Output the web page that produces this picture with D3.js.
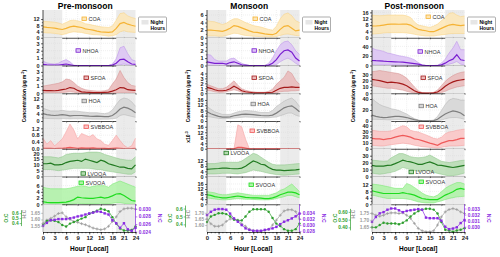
<!DOCTYPE html>
<html>
<head>
<meta charset="utf-8">
<script src="https://cdn.jsdelivr.net/npm/d3@7"></script>
<style>
body { margin: 0; background: #fff; }
text { font-family: Arial, "Liberation Sans", sans-serif; }
</style>
</head>
<body>
<svg id="chart" width="500" height="257"></svg>
<script>
// ---- data ----
const hours = [0,1,2,3,4,5,6,7,8,9,10,11,12,13,14,15,16,17,18,19,20,21,22,23,24];
const hourTicks = [0,3,6,9,12,15,18,21,24];
const nightSpans = [[0,5],[19,24]];
const seasons = ["Pre-monsoon","Monsoon","Post-monsoon"];
const species = ["COA","NHOA","SFOA","HOA","SVBBOA","LVOOA","SVOOA"];

// rows follow `species`
const preMean = [
  [7,6.6,6.4,6.2,5.7,5.3,6,7,7.4,7,6.6,5.7,5.3,4.9,4.3,3.8,3.6,3.4,3.8,6,9.1,9.8,8.7,8,7.4],
  [0.15,0.08,0.05,0.05,0.05,0.12,0.2,0.1,0,0,0,0,0,0,0,0,0,0,0.05,0.3,0.8,0.85,0.5,0.2,0.15],
  [0.4,0.38,0.36,0.35,0.4,0.5,0.6,0.8,0.7,0.4,0.2,0.15,0.12,0.1,0.1,0.1,0.12,0.15,0.3,0.5,0.8,0.75,0.5,0.45,0.4],
  [4,3.5,3.2,3,3.2,3.5,3.2,2.8,3,3,3,2.8,2.6,2.5,2.6,2.5,2.4,2.4,3,4.5,6.5,7.5,7,6,4.5],
  [0.03,0.02,0.02,0.01,0.02,0.03,0.05,0.08,0.06,0.03,0.05,0.04,0.04,0.05,0.03,0.03,0.02,0.01,0.03,0.04,0.03,0.01,0,0.01,0.03],
  [11,11,11.5,10,10,10.5,12,13,13.5,14,13,15,14,13,12,14,13,11,10,9,8,8,7,6.5,10],
  [0.8,0.6,0.5,0.5,0.5,0.6,0.7,1.0,1.5,2.3,2.1,2.0,1.9,1.9,2.1,2.3,2.0,2.2,2.7,3.3,3.4,2.8,2.0,1.2,1.0]
];
const preHi = [
  [10.6,10.4,10.2,10,9.5,8.7,9.8,11,11.3,10.8,10.2,9,8.6,8,7.5,7,6.8,6.6,7.5,11.3,15.5,16,14,13,12.3],
  [0.6,0.35,0.25,0.2,0.3,0.6,0.8,0.5,0.05,0,0,0,0,0,0,0,0,0,0.2,0.9,2.4,2.6,1.6,0.8,0.6],
  [1.0,1.1,1.2,1.3,1.4,1.6,2.0,1.9,1.5,1.0,0.7,0.5,0.4,0.35,0.3,0.3,0.35,0.5,1.3,2.0,3.2,2.2,1.5,1.1,1.0],
  [7,6.2,5.5,5.5,5.5,5.8,5.5,5.3,5.5,5.3,5,4.8,4.5,4.5,4.5,4.2,4,4.5,6,9,11.5,12.5,12,10.5,8],
  [0.62,0.27,0.48,0.17,0.37,0.58,1.0,1.45,1.1,0.58,0.9,0.8,0.7,0.83,0.58,0.48,0.27,0.2,0.48,0.8,0.48,0.2,0.06,0.17,0.62],
  [17,17,17,16.5,16,17,19,19.5,20,20,20,20.5,21,21,21,20.5,19,18,17,16,15,14.5,14,14,17],
  [5.5,5.2,5,5,5,5,5,5.2,5.5,5.8,6,5.8,5.5,5.8,6,6,6,5.5,6.5,7,7.5,7,6.5,6,5.5]
];
const preLo = [
  [3.4,3.1,3,2.8,2.4,2,2.6,3.4,3.8,3.6,3.4,2.8,2.4,2,1.9,1.7,1.4,1,1.3,2,3.8,4.5,3.8,3.6,3.4],
  [0,0,0,0,0,0,0,0,0,0,0,0,0,0,0,0,0,0,0,0,0.1,0.2,0.1,0,0],
  [0.1,0.1,0.1,0.1,0.1,0.1,0.15,0.2,0.15,0.05,0,0,0,0,0,0,0,0,0,0.05,0.1,0.1,0.1,0.1,0.1],
  [1.5,1.4,1.3,1.3,1.2,1.3,1.2,1.1,1.2,1.2,1.2,1.1,1.1,1,1,1,1,1,1.2,1.5,3,3.5,3,2.5,2],
  [0,0,0,0,0,0,0,0,0,0,0,0,0,0,0,0,0,0,0,0,0,0,0,0,0],
  [6,6,6,5.5,5,5.5,6,6.5,7,7,7,7,7,6.5,6,6,5,4.5,4,3.5,3,2.5,2,2,4],
  [0,0,0,0,0,0,0,0,0.1,0.3,0.2,0.1,0.1,0.1,0.2,0.3,0.2,0.2,0.3,0.5,0.5,0.3,0.1,0,0]
];

const monMean = [
  [2,2,1.9,1.8,1.7,2,2.5,3.2,3,2.6,2.2,1.8,1.5,1.4,1.2,1,0.9,0.8,1.2,2.2,3,3.2,2.5,1.8,2],
  [0.5,0.4,0.3,0.3,0.3,0.2,0.4,0.5,0.3,0.1,0.05,0,0,0,0,0,0.05,0.3,0.8,1.5,2.0,2.1,1.8,1.0,0.6],
  [1.2,1.0,0.7,0.5,0.5,0.6,0.9,1.4,1.0,0.5,0.3,0.2,0.1,0.1,0.1,0.1,0.15,0.2,0.6,1.0,1.2,1.2,1.3,1.2,1.2],
  [7,5.5,4.5,3.5,3,3,3.2,4,4.5,5,5.2,5,4.8,4.5,4.2,4,4,4.5,6,8,10,11,11.5,9.5,7],
  [0,0,0,0,0,0,0,0,1.0,1.0,0.5,0,0,0,0,0,0,0,0,0,0,0,0,0,0],
  [5.5,5.8,6,6.2,6.5,6.5,6.2,6,6,6.5,8,10,12,11,9.5,9,7,5.5,5,5,4.5,4.8,5,5.2,5.5],
  [7.5,7,6,5.5,5,5,5.5,6,6.5,6,5.5,5.2,5,5,4.8,4.5,4.5,5,6,7.5,8.5,9.5,9.5,9,7.5]
];
const monHi = [
  [4.5,4.3,4.2,3.8,3.5,3.8,4.5,5,5,4.5,4,3.6,3.2,3,2.8,2.5,2.2,2,3,5,6.2,6.5,5.8,4.5,4],
  [1.5,1.4,0.8,0.6,0.6,0.6,0.9,1.0,0.6,0.3,0.1,0,0,0,0,0,0.3,1.0,2.0,2.8,3.2,3.3,2.8,2.0,1.5],
  [1.8,1.5,1.2,0.9,0.9,1.2,1.8,2.5,1.6,0.9,0.6,0.4,0.3,0.2,0.2,0.2,0.4,0.8,1.8,2.5,3.2,4.5,4.0,2.6,1.8],
  [11,9,7,6,5,5,5,6,7,7.5,8,7.8,7.5,7,6.5,6.5,6.5,8,11,13,15,16.5,17.5,15,11],
  [0,0,0,0,0,0,0,0,17.4,16,7,0,0,0,0,0,0,0,0,0,0,0,0,0,0],
  [10,10,10,10.5,11,11,11,11,11,12,14,16,18,17,15,13,11,9.5,9,9,9,9.2,9.5,9.8,10],
  [10,9.5,9,8,7.5,7.5,8,8.5,9,8.5,8,7.5,7,7,7,7,7,8,9,11,12,14,16,13,10]
];
const monLo = [
  [0.5,0.5,0.5,0.4,0.4,0.6,0.9,1.2,1.1,0.8,0.6,0.5,0.4,0.35,0.3,0.25,0.2,0.2,0.3,0.6,0.9,1.0,0.8,0.6,0.5],
  [0,0,0,0,0,0,0,0,0,0,0,0,0,0,0,0,0,0,0.1,0.5,0.8,1.0,0.7,0.3,0],
  [0.6,0.5,0.3,0.2,0.2,0.3,0.5,0.7,0.5,0.2,0.1,0.05,0,0,0,0,0,0,0.1,0.3,0.4,0.4,0.5,0.5,0.6],
  [3.5,3,2.5,2,1.8,1.8,2,2.2,2.5,2.8,3,2.9,2.8,2.6,2.5,2.5,2.5,2.8,3,4,5,6,6,4.5,3.5],
  [0,0,0,0,0,0,0,0,0,0,0,0,0,0,0,0,0,0,0,0,0,0,0,0,0],
  [2,2,2,2.2,2.5,2.5,2.5,2.2,2,2.5,3,4,5,4.5,4,3.2,2.5,2,1.5,1.2,1,1.2,1.5,1.8,2],
  [5,4.6,4.2,3.8,3.5,3.5,3.8,4.2,4.5,4.2,4,3.9,3.8,3.6,3.5,3.5,3.5,3.8,4.5,5.2,6,7,7,6,5]
];

const postMean = [
  [7.4,7.4,7.6,8,8.4,8.6,8.6,8.5,8.6,8.6,8,6.5,5.3,4.8,4.4,3.8,3.8,4.8,5.9,7,8,8.4,8,7.6,8],
  [10.5,10,9.8,9,8.4,8,7.7,7.3,7,6,4.9,3.8,2.8,0.7,0,0,0,0,1.4,4.9,9.8,13.3,22.5,12,10.5],
  [22,21,20,18.5,17,17.5,17,16,14.5,12,8,4,1.5,0.3,0.1,0.1,0.5,2,6,11,15,18,20,21,22],
  [10.8,8.3,7,6.3,6.5,7.6,8.3,8.3,7.6,6.3,4.4,2.5,1.3,0.6,0.4,0.4,0.6,3.2,8.3,12.7,15.9,18.4,17,14.6,9.5],
  [18,17,17,15.8,17,18,20,21.8,23,21.8,20,17,16,14,12,9.7,7.9,6,9.7,12,14,14,15.8,18,18],
  [16,15,15,15,16,16.5,18.5,21,23.5,22,21,19.5,17.5,17.5,19.5,21,19,16.5,16,15,14,13,14,15,16],
  [8.4,7.8,7.2,6.7,6.7,6.7,6.7,6.7,7.2,6.7,6.3,5.7,4.6,3.6,3.2,2.9,2.9,2.9,4.2,5.7,6.7,7.8,9.3,9.9,9.3]
];
const postHi = [
  [14.3,14,13.9,14,14.3,14.3,14.3,14.3,14.3,13.8,12.8,10,8,7.5,7,6.5,7.4,8.6,10.7,12.8,15.4,15.8,14.3,13.3,13.7],
  [36.5,33,31.6,29.5,26,24.6,22.5,20.4,19,17.5,15.4,12,6.3,1.4,0,0,0,0.7,4.9,13.3,26,36.5,50.5,33,33],
  [34,35,36,35,34,33,32,31,28,24,17,10,4,1,0.3,0.3,1.5,5,12,19,24,28,31,33,34],
  [41,35,30,26.7,24.8,22.2,21,19,15.9,12.7,8.3,4.4,1.9,0.6,0.4,0.6,1.9,8.3,19,30,38,41,40,38,38],
  [32,31,30,30,30,31,34,37,40,38,32,30,29,26.5,24,21,18,17,20,26,29,30,32,33,34],
  [23.5,23,22.5,22,22.5,27,30,33,33,31,28.5,27.5,27,27.5,28.5,31,28,25,22,21,20,21,22,23,23.5],
  [12.6,12.3,12,11.5,11,10.5,9.9,9.9,9.9,13,12,10.5,8.8,7,5.7,5,4.6,5.7,7.8,9.9,11.4,12.5,13.5,13.5,12.6]
];
const postLo = [
  [2.3,2.5,2.7,3,3.2,3.2,3.2,3.2,3.2,3,2.7,2.2,1.7,1.4,1.1,1.1,1.1,1.5,1.8,2.1,2.5,2.7,2.7,2.7,2.7],
  [1.4,1.4,1.3,1.2,1.2,1.1,1,0.8,0.6,0.4,0.2,0,0,0,0,0,0,0,0,0.5,2.8,4.9,8.4,2.8,1.4],
  [12,11,10,9,8,8,7,6,5,3,1.5,0.5,0,0,0,0,0,0,1,3,6,8,10,11,12],
  [3.2,3,2.8,2.6,2.2,2,2.5,2.5,2.2,1.6,0.8,0.3,0,0,0,0,0,0.5,1.6,3.8,5.7,6.3,6.3,5,3.2],
  [6,5.4,4.8,4.8,6,7,7.9,8.8,9.7,8.8,7.9,6,4.8,3.6,3,2.4,1.8,1.2,2.4,3.6,4.8,4.8,4.8,5.4,6],
  [5,4,3.3,4,5,6,7.5,10,13,11.5,10,8.5,7.5,8,8.5,8,6,4.5,3.3,2,1,1.5,2,3.5,5],
  [5.7,5.2,4.6,4.1,3.6,3.6,3.6,3.6,3.6,3.3,2.9,2.2,1.5,1.1,0.8,0.8,0.8,1.5,2.1,2.9,3.6,4.1,4.6,4.8,5]
];

// y tick labels of the seven panels
const preTicks  = [[0,4,8,12],[0,1,2,3],[0,1,2,3],[0,4,8,12],[0,0.4,0.8,1.2],[0,5,10,15,20],[0,2,4,6]];
const monTicks  = [[0,2,4,6],[0,1,2,3],[0,1,2,3,4],[0,4,8,12,16],[0,4,8,12,16],[0,4,8,12],[0,4,8,12,16]];
const postTicks = [[0,4,8,12,16],[0,20,40],[0,10,20,30],[0,20,40],[0,10,20,30,40],[0,10,20,30],[0,4,8,12]];
// axis top of each panel
const preMax  = [17.8,3.75,3.9,15.1,1.63,23.9,8.95];
const monMax  = [7.3,3.75,5.6,21.1,20.2,21.5,21.9];
const postMax = [17.5,58,44,50.5,48,40,17.3];

// elemental ratios
const preOC  = [0.36,0.445,0.455,0.445,0.42,0.36,0.33,0.39,0.42,0.455,0.49,0.52,0.585,0.62,0.65,0.69,0.67,0.64,0.52,0.39,0.29,0.25,0.25,0.26,0.33];
const preHC  = [1.57,1.595,1.608,1.625,1.645,1.65,1.62,1.60,1.585,1.578,1.568,1.56,1.548,1.535,1.528,1.522,1.528,1.548,1.585,1.62,1.66,1.68,1.685,1.685,1.678];
const preNC  = [0.0255,0.0263,0.027,0.0271,0.0273,0.0273,0.0273,0.0275,0.0277,0.028,0.0282,0.0285,0.0288,0.029,0.0293,0.0292,0.0288,0.0285,0.027,0.0262,0.025,0.0262,0.0246,0.0242,0.025];
const monOC  = [0.43,0.50,0.52,0.54,0.54,0.53,0.50,0.46,0.45,0.45,0.50,0.56,0.59,0.59,0.59,0.59,0.56,0.48,0.41,0.38,0.34,0.32,0.32,0.34,0.41];
const monHC  = [1.65,1.61,1.59,1.59,1.60,1.63,1.65,1.65,1.64,1.61,1.59,1.565,1.555,1.55,1.55,1.555,1.565,1.60,1.64,1.68,1.715,1.725,1.725,1.71,1.65];
const monNC  = [0.0333,0.0344,0.0351,0.0353,0.0353,0.0351,0.0338,0.0322,0.0311,0.0300,0.0289,0.0284,0.0281,0.0281,0.0281,0.0284,0.0286,0.0289,0.0294,0.0303,0.0311,0.0316,0.0322,0.0329,0.0338];
const postOC = [0.40,0.40,0.43,0.46,0.45,0.45,0.45,0.44,0.46,0.49,0.54,0.58,0.61,0.63,0.64,0.64,0.63,0.58,0.47,0.37,0.36,0.345,0.36,0.37,0.39];
const postHC = [1.745,1.733,1.726,1.733,1.745,1.75,1.75,1.745,1.75,1.733,1.71,1.674,1.638,1.621,1.614,1.614,1.621,1.662,1.721,1.757,1.774,1.781,1.774,1.757,1.745];
const postNC = [0.0308,0.0316,0.0322,0.0324,0.0328,0.0330,0.0330,0.0327,0.0324,0.0326,0.0327,0.0328,0.0329,0.0328,0.0315,0.0314,0.0314,0.0314,0.0310,0.0300,0.0296,0.0297,0.0299,0.0306,0.0311];

const ocTicks = [[0.4,0.5,0.6],[0.4,0.5,0.6],[0.40,0.50,0.60]];
const hcTicks = [[1.55,1.60,1.65],[1.60,1.65,1.70],[1.65,1.70,1.75]];
const ncTicks = [[0.024,0.026,0.028,0.030],[0.028,0.030,0.032,0.034],[0.030,0.031,0.032,0.033]];
const ocDom = [[0.22,0.78],[0.304,0.654],[0.34,0.699]];
const hcDom = [[1.505,1.715],[1.543,1.77],[1.612,1.812]];
const ncDom = [[0.0239,0.0312],[0.0277,0.0369],[0.02913,0.0337]];

// ---- style ----
const lineCol = ["#f5b335","#7a1fd0","#a51a1a","#7f7f7f","#ef5a5a","#217a21","#1fdc1f"];
const fillCol = ["#fde6b6","#dcc3f5","#e9b9b9","#d6d6d6","#fbc4c4","#b6dcb2","#aef2a6"];
const edgeCol = ["#f9d07c","#b98de8","#d48b8b","#b3b3b3","#f59a9a","#86c382","#6fe666"];
// legend placement per panel [dx from plot left, dy from panel top]
const legPos = [
  [[39,9],[33,13],[41,12.5],[39,8],[41,6],[38,25],[36,6.5]],
  [[46,9],[45,13],[45,12.5],[44,11],[43,10],[17,4.5],[42,8.5]],
  [[54,7],[46,14],[49,12.5],[47,13],[47,6],[37,23.5],[47,5.5]]
];
const X0 = [43,207,372], PW = 92.5, TOP = 10, PH = 27.75;
const OC_COL = "#2e9e2e", HC_COL = "#9a9a9a", NC_COL = "#8a2be2";

const svg = d3.select("#chart");
const cfgs = [
  {mean:preMean, hi:preHi, lo:preLo, ticks:preTicks, max:preMax, oc:preOC, hc:preHC, nc:preNC},
  {mean:monMean, hi:monHi, lo:monLo, ticks:monTicks, max:monMax, oc:monOC, hc:monHC, nc:monNC},
  {mean:postMean, hi:postHi, lo:postLo, ticks:postTicks, max:postMax, oc:postOC, hc:postHC, nc:postNC}
];

function styleAxis(g, col, fs) {
  g.select(".domain").attr("stroke", col).attr("stroke-width", 0.7);
  g.selectAll(".tick line").attr("stroke", col).attr("stroke-width", 0.6);
  g.selectAll(".tick text").attr("font-size", fs || 5.5).attr("font-weight", "bold")
    .attr("fill", col === "#000" ? "#222" : col).attr("font-family", "Arial, 'Liberation Sans', sans-serif");
}
function mids(t) {
  const m = [];
  for (let i = 0; i < t.length - 1; i++) m.push((t[i] + t[i+1]) / 2);
  return m;
}
function backdrop(g, x, y, top, bot, yt) {
  nightSpans.forEach(s => g.append("rect")
    .attr("x", x(s[0])).attr("width", x(s[1]) - x(s[0]))
    .attr("y", top).attr("height", bot - top).attr("fill", "#ebebeb"));
  g.selectAll(null).data(hourTicks.slice(1, -1)).join("line")
    .attr("x1", d => x(d)).attr("x2", d => x(d)).attr("y1", top).attr("y2", bot)
    .attr("stroke", "#d9d9d9").attr("stroke-width", 0.4).attr("stroke-dasharray", "1,1");
  if (yt) g.selectAll(null).data(yt.filter(v => v > 0)).join("line")
    .attr("x1", x(0)).attr("x2", x(24)).attr("y1", d => y(d)).attr("y2", d => y(d))
    .attr("stroke", "#d9d9d9").attr("stroke-width", 0.4).attr("stroke-dasharray", "1,1");
}

cfgs.forEach((cfg, k) => {
  const x0 = X0[k];
  const x = d3.scaleLinear().domain([0, 24]).range([x0, x0 + PW]);

  svg.append("text").attr("x", x0 + PW / 2 - 4).attr("y", 8.5)
    .attr("text-anchor", "middle").attr("font-size", 8.5).attr("font-weight", "bold")
    .text(seasons[k]);

  species.forEach((sp, i) => {
    const top = TOP + i * PH, bot = top + PH;
    const y = d3.scaleLinear().domain([0, cfg.max[i]]).range([bot, top]);
    const g = svg.append("g");
    backdrop(g, x, y, top, bot, cfg.ticks[i]);

    const band = d3.area().x((d, j) => x(hours[j])).y0((d, j) => y(cfg.lo[i][j])).y1(d => y(d));
    g.append("path").datum(cfg.hi[i]).attr("d", band).attr("fill", fillCol[i]).attr("fill-opacity", 0.85);
    const ln = d3.line().x((d, j) => x(hours[j])).y(d => y(d));
    [cfg.hi[i], cfg.lo[i]].forEach(a => g.append("path").datum(a).attr("d", ln)
      .attr("fill", "none").attr("stroke", edgeCol[i]).attr("stroke-width", 0.5));
    g.append("path").datum(cfg.mean[i]).attr("d", ln)
      .attr("fill", "none").attr("stroke", lineCol[i]).attr("stroke-width", 1.2);

    const fmt = cfg.ticks[i].some(v => v % 1 !== 0) ? d3.format(".1f") : d3.format("d");
    const ay = g.append("g").attr("transform", `translate(${x0},0)`)
      .call(d3.axisLeft(y).tickValues(cfg.ticks[i]).tickFormat(fmt).tickSize(2).tickSizeOuter(0).tickPadding(1.5));
    styleAxis(ay, "#000");
    ay.select(".domain").attr("d", `M0,${bot}V${top}`);
    const am = g.append("g").attr("transform", `translate(${x0},0)`)
      .call(d3.axisLeft(y).tickValues(mids(cfg.ticks[i])).tickFormat("").tickSize(1.2));
    am.select(".domain").remove();
    am.selectAll("line").attr("stroke", "#000").attr("stroke-width", 0.5);
    const ax = g.append("g").attr("transform", `translate(0,${bot})`)
      .call(d3.axisBottom(x).tickValues(hourTicks).tickFormat("").tickSize(1.5).tickSizeOuter(0));
    styleAxis(ax, "#000");

    const [lx, ly] = legPos[k][i];
    g.append("rect").attr("x", x0 + lx).attr("y", top + ly - 2).attr("width", 4.5).attr("height", 3.5)
      .attr("fill", fillCol[i]).attr("stroke", lineCol[i]).attr("stroke-width", 0.8);
    g.append("text").attr("x", x0 + lx + 6.5).attr("y", top + ly + 1.8)
      .attr("font-size", 5.5).attr("fill", "#333").text(sp);
  });

  // y title
  svg.append("text").attr("transform", `translate(${x0 - 17},96) rotate(-90)`)
    .attr("text-anchor", "middle").attr("font-size", 4.9).attr("font-weight", "bold")
    .html('Concentration (µg m<tspan dy="-1.8" font-size="3.5">-3</tspan><tspan dy="1.8">)</tspan>');
  if (k === 1) {
    svg.append("text").attr("transform", `translate(${x0 - 17},137) rotate(-90)`)
      .attr("text-anchor", "middle").attr("font-size", 5).attr("font-weight", "bold")
      .html('x10<tspan dy="-1.8" font-size="3.5">-3</tspan>');
  }

  // night hours legend
  const lgx = x0 + PW + 3, lgy = 17;
  svg.append("rect").attr("x", lgx).attr("y", lgy).attr("width", 28).attr("height", 15).attr("rx", 1)
    .attr("fill", "#fff").attr("stroke", "#777").attr("stroke-width", 0.6);
  svg.append("rect").attr("x", lgx + 3).attr("y", lgy + 3).attr("width", 7).attr("height", 4.5).attr("fill", "#e6e6e6");
  svg.append("text").attr("x", lgx + 12).attr("y", lgy + 7).attr("font-size", 5).attr("font-weight", "bold").text("Night");
  svg.append("text").attr("x", lgx + 12).attr("y", lgy + 13).attr("font-size", 5).attr("font-weight", "bold").text("Hours");

  // ratio panel
  const top = TOP + 7 * PH, bot = top + PH;
  const g = svg.append("g");
  const yOC = d3.scaleLinear().domain(ocDom[k]).range([bot, top]);
  const yHC = d3.scaleLinear().domain(hcDom[k]).range([bot, top]);
  const yNC = d3.scaleLinear().domain(ncDom[k]).range([bot, top]);
  backdrop(g, x, yHC, top, bot, null);

  const series = [[cfg.hc, yHC, HC_COL, "plus"], [cfg.oc, yOC, OC_COL, "circle"], [cfg.nc, yNC, NC_COL, "square"]];
  series.forEach(([arr, sc, col, mk]) => {
    g.append("path").datum(arr).attr("d", d3.line().x((d, j) => x(hours[j])).y(d => sc(d)))
      .attr("fill", "none").attr("stroke", col).attr("stroke-width", 0.7);
    const pts = g.selectAll(null).data(arr).join("g")
      .attr("transform", (d, j) => `translate(${x(hours[j])},${sc(d)})`);
    if (mk === "plus") {
      pts.append("path").attr("d", "M-1.5,0H1.5M0,-1.5V1.5").attr("stroke", col).attr("stroke-width", 0.7);
    } else if (mk === "circle") {
      pts.append("circle").attr("r", 1.2).attr("fill", col);
    } else {
      pts.append("rect").attr("x", -1.2).attr("y", -1.2).attr("width", 2.4).attr("height", 2.4).attr("fill", col);
    }
  });

  const axH = g.append("g").attr("transform", `translate(${x0},0)`)
    .call(d3.axisLeft(yHC).tickValues(hcTicks[k]).tickFormat(d3.format(".2f")).tickSize(1.8).tickSizeOuter(0).tickPadding(1));
  styleAxis(axH, HC_COL, 4.8);
  axH.select(".domain").attr("d", `M0,${bot}V${top}`);
  const fOC = k === 2 ? d3.format(".2f") : d3.format(".1f");
  const axO = g.append("g").attr("transform", `translate(${x0 - 21.5},0)`)
    .call(d3.axisLeft(yOC).tickValues(ocTicks[k]).tickFormat(fOC).tickSize(1.8).tickSizeOuter(0).tickPadding(1));
  styleAxis(axO, OC_COL, 4.8);
  axO.select(".domain").attr("d", `M0,${yOC(ocTicks[k][0]) + 3}V${yOC(ocTicks[k][2]) - 3}`);
  const axN = g.append("g").attr("transform", `translate(${x0 + PW},0)`)
    .call(d3.axisRight(yNC).tickValues(ncTicks[k]).tickFormat(d3.format(".3f")).tickSize(1.8).tickSizeOuter(0).tickPadding(1.5));
  styleAxis(axN, NC_COL, 4.8);
  axN.select(".domain").attr("d", `M0,${bot}V${top}`);

  g.append("text").attr("transform", `translate(${x0 - 35},${(top + bot) / 2}) rotate(-90)`)
    .attr("text-anchor", "middle").attr("font-size", 5).attr("font-weight", "bold").attr("fill", OC_COL).text("O:C");
  g.append("text").attr("transform", `translate(${x0 - 17},${(top + bot) / 2 - 4}) rotate(-90)`)
    .attr("text-anchor", "middle").attr("font-size", 4.8).attr("font-weight", "bold").attr("fill", HC_COL).text("H:C");
  g.append("text").attr("transform", `translate(${x0 + PW + 22},${(top + bot) / 2}) rotate(90)`)
    .attr("text-anchor", "middle").attr("font-size", 5).attr("font-weight", "bold").attr("fill", NC_COL).text("N:C");

  const axX = g.append("g").attr("transform", `translate(0,${bot})`)
    .call(d3.axisBottom(x).tickValues(hourTicks).tickFormat(d3.format("d")).tickSize(2.5).tickSizeOuter(0).tickPadding(1.5));
  styleAxis(axX, "#000", 6);
  const axXm = g.append("g").attr("transform", `translate(0,${bot})`)
    .call(d3.axisBottom(x).tickValues(hours).tickFormat("").tickSize(1.3));
  axXm.select(".domain").remove();
  axXm.selectAll("line").attr("stroke", "#000").attr("stroke-width", 0.5);

  svg.append("text").attr("x", x0 + PW / 2).attr("y", 251).attr("text-anchor", "middle")
    .attr("font-size", 6.5).attr("font-weight", "bold").text("Hour [Local]");
});
</script>
</body>
</html>
